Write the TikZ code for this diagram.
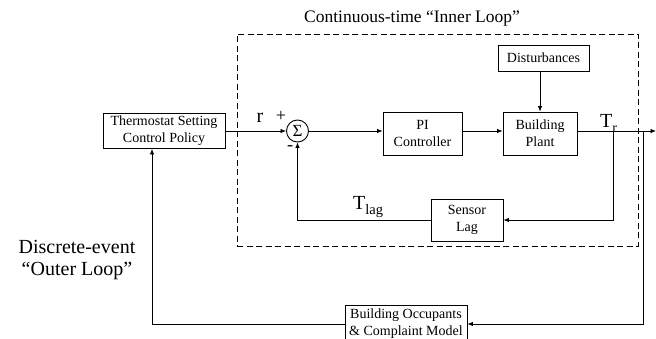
\documentclass[tikz,border=0pt]{standalone}
\usepackage{fontspec}
\setmainfont{Liberation Serif}
\usetikzlibrary{arrows.meta}

\begin{document}
\begin{tikzpicture}[x=1pt,y=-1pt,
  blk/.style={draw, line width=0.9pt, align=center, inner sep=0pt,
    font=\fontsize{14}{17}\selectfont},
  sumnode/.style={draw, circle, line width=0.9pt, inner sep=0pt,
    minimum size=22pt, font=\fontsize{17}{17}\selectfont},
  frame/.style={draw, line width=0.8pt, dash pattern=on 6pt off 3.5pt},
  wire/.style={line width=0.8pt},
  arr/.style={wire, -{Latex[length=5.5pt,width=4.5pt]}},
  lbl/.style={inner sep=0pt, font=\fontsize{20}{20}\selectfont},
  sgn/.style={inner sep=0pt, font=\fontsize{18}{18}\selectfont}]
\useasboundingbox (0,0) rectangle (656,339);

% inner-loop boundary
\node[frame, minimum width=401pt, minimum height=212pt] (inner) at (437.5,140) {};
\node[lbl, anchor=base, font=\fontsize{17.5}{18}\selectfont] (ttl) at (412,23)
  {Continuous-time “Inner Loop”};

% blocks
\node[blk, minimum width=122pt, minimum height=35pt] (therm) at (164,131)
  {Thermostat Setting\\Control Policy};
\node[sumnode] (sum) at (297.5,131) {Σ};
\node[blk, minimum width=79pt, minimum height=43pt] (pi) at (422.5,133.5)
  {PI\\Controller};
\node[blk, minimum width=74pt, minimum height=43pt] (plant) at (540,133.5)
  {Building\\Plant};
\node[blk, minimum width=91pt, minimum height=26pt] (dist) at (543.5,58)
  {Disturbances};
\node[blk, minimum width=72pt, minimum height=42pt] (lag) at (467,220)
  {Sensor\\Lag};
\node[blk, minimum width=122pt, minimum height=38pt] (occ) at (406,324)
  {Building Occupants\\\& Complaint Model};

% branch points and free ends
\coordinate (out) at (656,131);
\coordinate (bA) at (613,131);
\coordinate (bB) at (643,131);
\coordinate (ret) at (152,323);

% forward path
\draw[arr] (therm.east) -- (sum.west);
\draw[arr] (sum.east) -- (sum.east -| pi.west);
\draw[arr] (pi.east |- sum) -- (plant.west |- sum);
\draw[arr] (plant.north |- dist.south) -- (plant.north);
\draw[arr] (plant.east |- sum) -- (out);

% inner feedback through the sensor
\draw[arr] (bA) |- (lag.east);
\draw[arr] (lag.west) -| (sum.south);

% outer loop through the occupants
\draw[arr] (bB) |- (occ.east);
\draw[arr] (occ.west) -| (ret |- therm.south);

% signal labels
\node[lbl, anchor=base] (r) at (260,123) {r};
\node[sgn] (plus) at (281,116) {+};
\node[sgn] (minus) at (290,148) {-};
\node[lbl, anchor=base west] (tr) at (600,128)
  {T\raisebox{-5pt}{\fontsize{14}{14}\selectfont r}};
\node[lbl, anchor=base west] (tlag) at (353,210)
  {T\raisebox{-5pt}{\fontsize{14.5}{14}\selectfont lag}};

% outer-loop caption
\node[lbl, anchor=base] (oa) at (77,254) {Discrete-event};
\node[lbl, anchor=base] (ob) at (77,275) {“Outer Loop”};
\end{tikzpicture}
\end{document}
